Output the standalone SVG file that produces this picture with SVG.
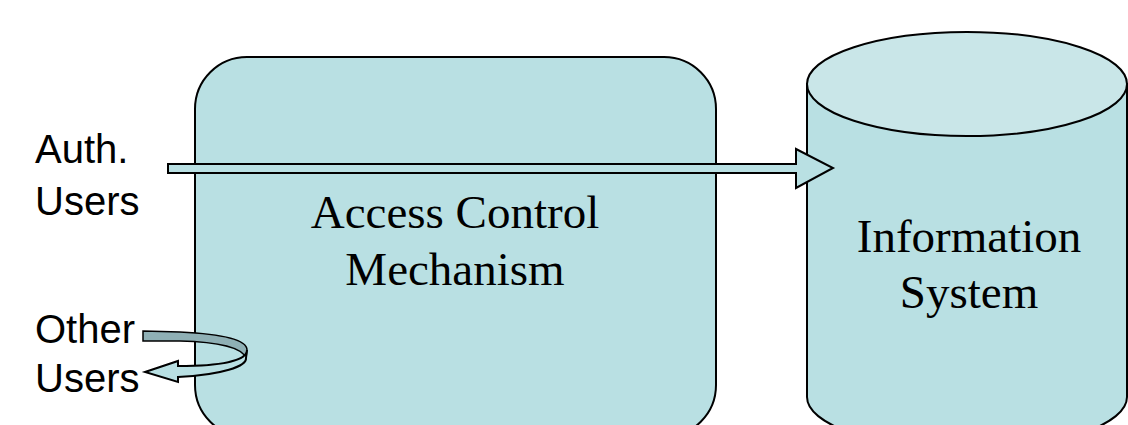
<svg xmlns="http://www.w3.org/2000/svg" width="1128" height="425" viewBox="0 0 1128 425">
<style>
.shape{fill:#b9e0e3;stroke:#000;stroke-width:2}
.sans{font-family:"Liberation Sans",Arial,sans-serif;font-size:40px;fill:#000}
.serif{font-family:"Liberation Serif","Times New Roman",serif;font-size:47px;fill:#000;text-anchor:middle}
</style>
<rect width="1128" height="425" fill="#fff"/>
<g id="acm">
<rect class="shape" x="195" y="57" width="521" height="380" rx="52" ry="52"/>
<text class="serif" x="455" y="228">Access Control</text>
<text class="serif" x="455" y="285">Mechanism</text>
</g>
<g id="infosys">
<path class="shape" d="M807,84 L807,397 A160,52 0 0 0 1127,397 L1127,84 Z"/>
<ellipse cx="967" cy="84" rx="160" ry="52" fill="#c9e6e8" stroke="#000" stroke-width="2"/>
<text class="serif" x="969" y="252">Information</text>
<text class="serif" x="969" y="308">System</text>
</g>
<g id="labels">
<text class="sans" x="35" y="163">Auth.</text>
<text class="sans" x="35" y="215">Users</text>
<text class="sans" x="35" y="343">Other</text>
<text class="sans" x="35" y="392">Users</text>
</g>
<g id="connectors">
<path class="shape" stroke-width="1.8" d="M168,164 L796,164 L796,149 L833,168 L796,188 L796,173 L168,173 Z"/>
<path fill="#8fb0b5" stroke="#000" stroke-width="1.5" d="M143,331 L180,332 C222,334 247,340 247,350 L246,358 C242,348 220,342 180,341 L143,341 Z"/>
<path class="shape" stroke-width="1.5" d="M247,350 C247,361 220,366 178,366 L178,361 L145,372 L178,382 L178,377 C222,375 247,366 246,358 Z"/>
</g>
</svg>
